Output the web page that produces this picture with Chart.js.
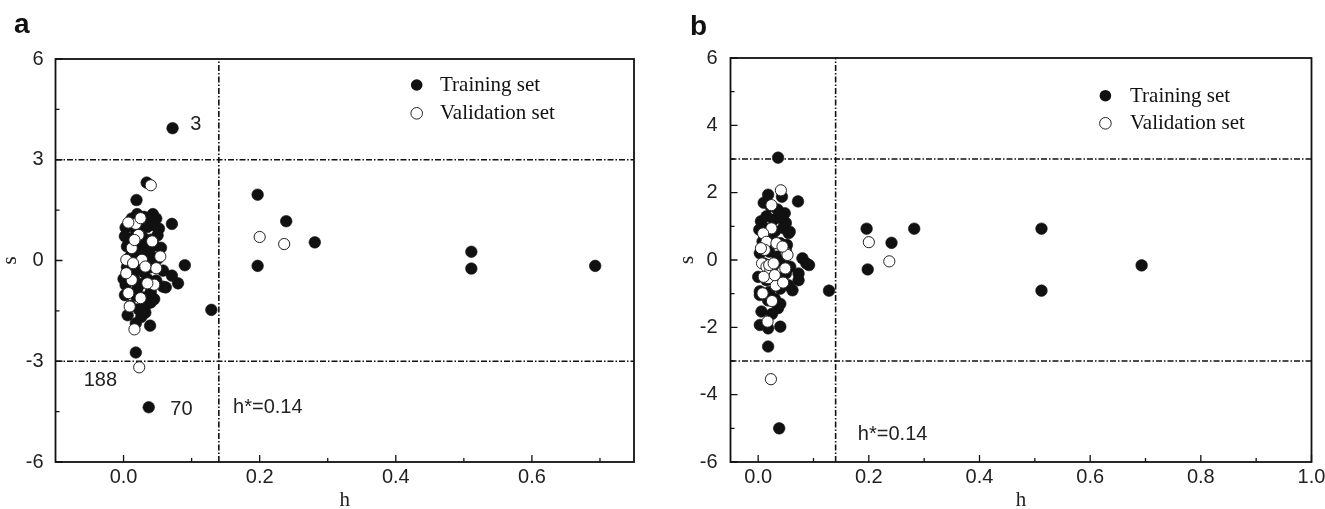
<!DOCTYPE html>
<html lang="en">
<head>
<meta charset="utf-8">
<title>Williams plot</title>
<script src="https://cdn.jsdelivr.net/npm/chart.js@4.4.1/dist/chart.umd.min.js"></script>
<style>
  html, body { margin: 0; padding: 0; background: #fff; }
  #graficos { position: relative; width: 1325px; height: 509px; overflow: hidden; }
  canvas { position: absolute; top: 0; }
  #graficoA { left: 0; }
  #graficoB { left: 660px; }
</style>
</head>
<body>
<div id="graficos">
  <canvas id="graficoA" width="660" height="509"></canvas>
  <canvas id="graficoB" width="665" height="509"></canvas>
</div>
<script>
// ---- painel a: alavancagem (h) x resíduo padronizado (s) ----
const hTreinoA = [
  0.072, 0.071, 0.090, 0.129, 0.197, 0.197, 0.239, 0.281, 0.511, 0.511, 0.693,
  0.037, 0.018, 0.039, 0.034, 0.019, 0.080, 0.071, 0.062,
  0.012, 0.020, 0.030, 0.043, 0.048, 0.038,
  0.003, 0.010, 0.025, 0.035, 0.045, 0.052, 0.018,
  0.002, 0.012, 0.028, 0.040, 0.050, 0.022,
  0.005, 0.030, 0.045, 0.055, 0.016, 0.038,
  0.010, 0.025, 0.042, 0.050, 0.033,
  0.005, 0.020, 0.040, 0.058, 0.030,
  0.000, 0.015, 0.035, 0.048, 0.025,
  0.003, 0.040, 0.058, 0.020,
  0.002, 0.018, 0.030, 0.045,
  0.010, 0.033, 0.022, 0.040,
  0.006, 0.026, 0.018, 0.032
];
const sTreinoA = [
  3.94, 1.09, -0.14, -1.47, 1.96, -0.16, 1.17, 0.54, 0.26, -0.24, -0.16,
  -4.37, -2.74, -1.94, 2.32, 1.80, -0.68, -0.45, -0.80,
  1.25, 1.38, 1.30, 1.38, 1.25, 1.20,
  0.98, 1.05, 1.05, 1.00, 1.05, 0.95, 0.90,
  0.72, 0.65, 0.70, 0.62, 0.75, 0.55,
  0.42, 0.40, 0.45, 0.38, 0.30, 0.25,
  0.12, 0.18, 0.10, 0.05, 0.02,
  -0.20, -0.25, -0.20, -0.30, -0.35,
  -0.55, -0.50, -0.55, -0.60, -0.70,
  -0.73, -0.93, -0.78, -0.85,
  -1.03, -1.05, -1.10, -1.15,
  -1.35, -1.33, -1.45, -1.25,
  -1.63, -1.68, -1.87, -1.55
];
const hValidA = [
  0.040, 0.200, 0.236, 0.023, 0.016,
  0.018, 0.025, 0.007, 0.022, 0.012, 0.042, 0.054, 0.048, 0.027, 0.012,
  0.007, 0.009, 0.025, 0.004, 0.014, 0.004, 0.032, 0.045, 0.035, 0.016
];
const sValidA = [
  2.24, 0.70, 0.49, -3.18, -2.05,
  1.09, 1.26, 1.13, 0.76, 0.37, 0.57, 0.12, -0.23, 0.02, -0.58,
  -0.97, -1.37, -1.12, 0.02, -0.08, -0.38, -0.18, -0.72, -0.68, 0.61
];

// ---- painel b ----
const hTreinoB = [
  0.036, 0.072, 0.018, 0.128, 0.196, 0.198, 0.241, 0.282, 0.512, 0.512, 0.693,
  0.038, 0.018, 0.040, 0.018, 0.080, 0.092, 0.073, 0.073, 0.062, 0.048, 0.087, 0.043,
  0.005, 0.015, 0.028, 0.040, 0.050, 0.022, 0.035, 0.010,
  0.002, 0.012, 0.030, 0.045, 0.055, 0.057,
  0.008, 0.025, 0.040, 0.052, 0.003, 0.020, 0.035, 0.050,
  0.010, 0.028, 0.045, 0.058, 0.000, 0.015, 0.035, 0.050,
  0.003, 0.020, 0.040, 0.055, 0.003, 0.036, 0.006, 0.003,
  0.018, 0.030, 0.025, 0.040
];
const sTreinoB = [
  3.04, 1.74, 1.94, -0.91, 0.93, -0.28, 0.51, 0.93, 0.93, -0.91, -0.16,
  -5.00, -2.57, -1.98, -2.03, 0.05, -0.15, -0.40, -0.60, -0.90, 1.39, -0.10, 1.88,
  1.15, 1.30, 1.20, 1.25, 1.10, 1.60, 1.50, 1.70,
  0.90, 0.95, 0.85, 0.95, 0.80, 0.84,
  0.55, 0.60, 0.50, 0.45, 0.20, 0.25, 0.10, 0.30,
  -0.10, -0.15, -0.05, -0.20, -0.50, -0.60, -0.55, -0.40,
  -0.93, -0.95, -0.85, -0.75, -1.04, -1.43, -1.53, -1.93,
  -1.20, -1.15, -1.60, -1.30
];
const hValidB = [
  0.041, 0.024, 0.023, 0.017, 0.025, 0.008, 0.200, 0.237,
  0.024, 0.009, 0.015, 0.033, 0.012, 0.051, 0.053, 0.049, 0.032, 0.018,
  0.045, 0.005, 0.044, 0.007, 0.015, 0.022, 0.030, 0.020, 0.010, 0.028
];
const sValidB = [
  2.07, 1.63, -3.54, -1.83, -1.22, -0.99, 0.53, -0.04,
  0.94, 0.79, 0.54, 0.50, 0.30, 0.20, 0.15, -0.25, -0.76, -0.54,
  -0.67, 0.35, 0.40, -0.10, -0.20, -0.30, -0.45, -0.15, -0.50, -0.10
];

// limites do domínio de aplicabilidade
const hCritico = 0.14;
const sLimite = 3;
const sMin = -6;
const sMax = 6;

// rótulos e ticks dos eixos
const ticksXA = [0, 0.2, 0.4, 0.6];
const ticksXMenoresA = [0.1, 0.3, 0.5, 0.7];
const ticksYA = [-6, -3, 0, 3, 6];
const ticksYMenoresA = [-4.5, -1.5, 1.5, 4.5];
const ticksXB = [0, 0.2, 0.4, 0.6, 0.8, 1.0];
const ticksXMenoresB = [0.1, 0.3, 0.5, 0.7, 0.9];
const ticksYB = [-6, -4, -2, 0, 2, 4, 6];
const ticksYMenoresB = [-5, -3, -1, 1, 3, 5];
const rotulosLegenda = ['Training set', 'Validation set'];
const textoCritico = 'h*=' + hCritico;

const SANS = '"Liberation Sans", Arial, sans-serif';
const SERIF = '"Liberation Serif", "Times New Roman", serif';
const PRETO = '#111';

function pontos(h, s) {
  return h.map((v, i) => ({ x: v, y: s[i] }));
}

// linhas tracejadas (traço-ponto) de h* e de s = ±3
function linhasLimite(xMin, xMax) {
  const estilo = {
    type: 'line', borderColor: PRETO, borderWidth: 1.6,
    borderDash: [6, 2, 1.5, 2], pointRadius: 0, fill: false, order: 2
  };
  return [
    { ...estilo, data: [{ x: hCritico, y: sMin }, { x: hCritico, y: sMax }] },
    { ...estilo, data: [{ x: xMin, y: sLimite }, { x: xMax, y: sLimite }] },
    { ...estilo, data: [{ x: xMin, y: -sLimite }, { x: xMax, y: -sLimite }] }
  ];
}

// moldura, ticks para dentro, legenda, anotações e letra do painel
const pluginMoldura = {
  id: 'moldura',
  afterDraw(chart, args, op) {
    const { ctx, chartArea: area } = chart;
    const x = chart.scales.x, y = chart.scales.y;
    ctx.save();
    ctx.strokeStyle = PRETO;
    ctx.lineWidth = 1.8;
    ctx.strokeRect(area.left, area.top, area.right - area.left, area.bottom - area.top);

    ctx.lineWidth = 1.3;
    ctx.beginPath();
    const tickX = (v, len) => {
      const px = x.getPixelForValue(v);
      ctx.moveTo(px, area.bottom); ctx.lineTo(px, area.bottom - len);
    };
    const tickY = (v, len) => {
      const py = y.getPixelForValue(v);
      ctx.moveTo(area.left, py); ctx.lineTo(area.left + len, py);
    };
    op.ticksX.forEach(v => tickX(v, 7));
    op.ticksXMenores.forEach(v => tickX(v, 4));
    op.ticksY.forEach(v => tickY(v, 7));
    op.ticksYMenores.forEach(v => tickY(v, 4));
    ctx.stroke();

    // legenda
    const lg = op.legenda;
    ctx.font = '21px ' + SERIF;
    ctx.textAlign = 'left';
    ctx.textBaseline = 'alphabetic';
    rotulosLegenda.forEach((txt, i) => {
      const cy = lg.y + i * lg.passo;
      ctx.beginPath();
      ctx.arc(lg.x, cy, 5.8, 0, 2 * Math.PI);
      if (i === 0) {
        ctx.fillStyle = PRETO; ctx.fill();
      } else {
        ctx.fillStyle = '#fff'; ctx.fill();
        ctx.lineWidth = 1; ctx.strokeStyle = '#222'; ctx.stroke();
      }
      ctx.fillStyle = PRETO;
      ctx.fillText(txt, lg.x + lg.recuo, cy + 6);
    });

    // anotações nos pontos
    ctx.font = '20px ' + SANS;
    ctx.fillStyle = '#222';
    ctx.textAlign = 'center';
    ctx.textBaseline = 'middle';
    op.notas.forEach(n => ctx.fillText(n.texto, x.getPixelForValue(n.h), y.getPixelForValue(n.s)));

    // letra do painel
    ctx.font = 'bold 28px ' + SANS;
    ctx.fillStyle = PRETO;
    ctx.textAlign = 'left';
    ctx.textBaseline = 'alphabetic';
    ctx.fillText(op.letra, op.letraX, op.letraY);
    ctx.restore();
  }
};

function criarPainel(id, cfg) {
  return new Chart(document.getElementById(id), {
    type: 'scatter',
    data: {
      datasets: [
        {
          label: rotulosLegenda[1], data: pontos(cfg.hValid, cfg.sValid), order: 0,
          pointRadius: 5.6, pointBackgroundColor: '#fff', pointBorderColor: '#222', pointBorderWidth: 1
        },
        {
          label: rotulosLegenda[0], data: pontos(cfg.hTreino, cfg.sTreino), order: 1,
          pointRadius: 5.8, pointBackgroundColor: PRETO, pointBorderColor: PRETO, pointBorderWidth: 0.6
        },
        ...linhasLimite(cfg.xMin, cfg.xMax)
      ]
    },
    options: {
      responsive: false,
      animation: false,
      events: [],
      layout: { padding: cfg.margem },
      plugins: {
        legend: { display: false },
        tooltip: { enabled: false },
        moldura: cfg.moldura
      },
      scales: {
        x: {
          type: 'linear', min: cfg.xMin, max: cfg.xMax,
          grid: { display: false, drawTicks: false },
          border: { display: false },
          afterBuildTicks: s => { s.ticks = cfg.moldura.ticksX.map(v => ({ value: v })); },
          afterFit: s => { s.height = cfg.alturaX; s.paddingLeft = 0; s.paddingRight = 0; },
          ticks: {
            padding: 3, maxRotation: 0, autoSkip: false, color: '#222',
            font: { family: SANS, size: 20 },
            callback: v => v.toFixed(1)
          },
          title: {
            display: true, text: 'h', color: '#222',
            font: { family: SERIF, size: 21 }, padding: { top: 0, bottom: -4 }
          }
        },
        y: {
          type: 'linear', min: sMin, max: sMax,
          grid: { display: false, drawTicks: false },
          border: { display: false },
          afterBuildTicks: s => { s.ticks = cfg.moldura.ticksY.map(v => ({ value: v })); },
          afterFit: s => { s.width = cfg.larguraY; s.paddingTop = 0; s.paddingBottom = 0; },
          ticks: {
            padding: cfg.paddingTicksY, autoSkip: false, color: '#222',
            font: { family: SANS, size: 20 },
            callback: v => String(v)
          },
          title: {
            display: true, text: 's', color: '#222',
            font: { family: SERIF, size: 21 }, padding: { top: cfg.recuoTituloY, bottom: 0 }
          }
        }
      }
    },
    plugins: [pluginMoldura]
  });
}

criarPainel('graficoA', {
  hTreino: hTreinoA, sTreino: sTreinoA, hValid: hValidA, sValid: sValidA,
  xMin: -0.1, xMax: 0.75,
  margem: { top: 59, right: 26, left: 0, bottom: 0 },
  alturaX: 47, larguraY: 55.5, paddingTicksY: 12, recuoTituloY: -2,
  moldura: {
    ticksX: ticksXA, ticksXMenores: ticksXMenoresA,
    ticksY: ticksYA, ticksYMenores: ticksYMenoresA,
    legenda: { x: 416.7, y: 85, passo: 28.3, recuo: 23.3 },
    notas: [
      { texto: '3', h: 0.106, s: 4.06 },
      { texto: '188', h: -0.034, s: -3.56 },
      { texto: '70', h: 0.085, s: -4.45 },
      { texto: textoCritico, h: 0.212, s: -4.39 }
    ],
    letra: 'a', letraX: 14, letraY: 33
  }
});

criarPainel('graficoB', {
  hTreino: hTreinoB, sTreino: sTreinoB, hValid: hValidB, sValid: sValidB,
  xMin: -0.05, xMax: 1.0,
  margem: { top: 58, right: 13.5, left: 0, bottom: 0 },
  alturaX: 47, larguraY: 70.5, paddingTicksY: 13, recuoTituloY: 14.5,
  moldura: {
    ticksX: ticksXB, ticksXMenores: ticksXMenoresB,
    ticksY: ticksYB, ticksYMenores: ticksYMenoresB,
    legenda: { x: 445.4, y: 95.7, passo: 27.6, recuo: 24.6 },
    notas: [
      { texto: textoCritico, h: 0.243, s: -5.19 }
    ],
    letra: 'b', letraX: 30, letraY: 35
  }
});
</script>
</body>
</html>
